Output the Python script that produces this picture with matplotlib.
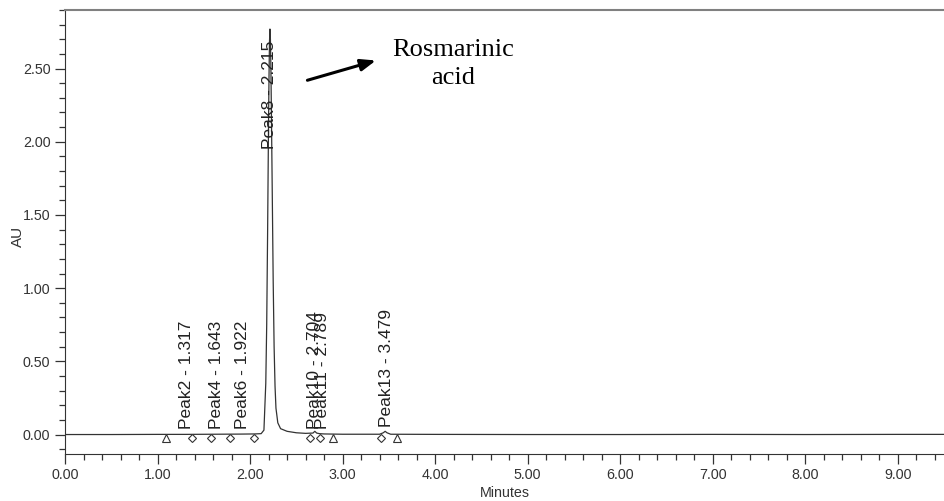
import matplotlib
matplotlib.use('Agg')
import matplotlib.pyplot as plt
from matplotlib.ticker import MultipleLocator, FormatStrFormatter

plt.rcParams['font.family'] = ['Liberation Sans', 'DejaVu Sans']

# chromatogram trace (minutes, AU)
time = [0.00, 0.50, 1.00, 1.30, 1.60, 1.90, 2.05, 2.12, 2.15, 2.17, 2.18, 2.19,
        2.20, 2.205, 2.21, 2.215, 2.22, 2.225, 2.23, 2.24, 2.25, 2.26, 2.27,
        2.28, 2.30, 2.33, 2.40, 2.50, 2.60, 2.68, 2.70, 2.72, 2.75, 2.80,
        3.00, 3.40, 3.44, 3.46, 3.48, 3.52, 4.00, 5.00, 6.00, 7.00, 8.00,
        9.00, 9.50]
au = [0.000, 0.000, 0.001, 0.001, 0.002, 0.003, 0.004, 0.006, 0.030, 0.350,
      0.750, 1.400, 2.150, 2.450, 2.680, 2.770, 2.700, 2.520, 2.250, 1.650,
      1.050, 0.600, 0.330, 0.180, 0.080, 0.040, 0.022, 0.012, 0.008, 0.010,
      0.022, 0.010, 0.006, 0.004, 0.002, 0.002, 0.012, 0.022, 0.012, 0.002,
      0.001, 0.000, 0.000, 0.001, 0.000, 0.001, 0.001]

# peak labels
peak_names = ['Peak2', 'Peak4', 'Peak6', 'Peak8', 'Peak10', 'Peak11', 'Peak13']
peak_rt = [1.317, 1.643, 1.922, 2.215, 2.704, 2.789, 3.479]
peak_label_y = [0.04, 0.04, 0.04, 2.69, 0.04, 0.04, 0.05]

# integration start/end markers
tri_x = [1.09, 2.894, 3.585]
dia_x = [1.368, 1.577, 1.785, 2.04, 2.646, 2.754, 3.413]
marker_y = -0.025

fig = plt.figure(figsize=(9.44, 5.01), dpi=100)
ax = fig.add_axes([65 / 944, (501 - 454) / 501, (944 - 65) / 944, (454 - 10) / 501])

ax.plot(time, au, color='#333333', linewidth=0.9)
ax.plot(tri_x, [marker_y] * len(tri_x), linestyle='none', marker='^',
        markersize=5.5, markerfacecolor='white', markeredgecolor='#333333',
        markeredgewidth=0.8)
ax.plot(dia_x, [marker_y] * len(dia_x), linestyle='none', marker='D',
        markersize=4, markerfacecolor='white', markeredgecolor='#333333',
        markeredgewidth=0.8)

for name, rt, ly in zip(peak_names, peak_rt, peak_label_y):
    va = 'top' if ly > 1 else 'bottom'
    ax.text(rt - 0.005, ly, f'{name} - {rt:.3f}', rotation=90, ha='center',
            va=va, fontsize=12.5, color='#222222')

ax.annotate('', xy=(3.36, 2.555), xytext=(2.62, 2.42),
            arrowprops=dict(arrowstyle='-|>,head_length=0.9,head_width=0.35',
                            color='black', lw=2.2, shrinkA=0, shrinkB=0))
ax.text(4.2, 2.53, 'Rosmarinic\nacid', ha='center', va='center',
        fontsize=19, family='Liberation Serif', linespacing=1.35)

ax.set_xlim(0, 9.5)
ax.set_ylim(-0.133, 2.90)
ax.xaxis.set_major_locator(MultipleLocator(1.0))
ax.xaxis.set_minor_locator(MultipleLocator(0.2))
ax.yaxis.set_major_locator(MultipleLocator(0.5))
ax.yaxis.set_minor_locator(MultipleLocator(0.1))
ax.xaxis.set_major_formatter(FormatStrFormatter('%.2f'))
ax.yaxis.set_major_formatter(FormatStrFormatter('%.2f'))

ax.tick_params(axis='both', which='major', direction='out', length=7,
               width=0.9, color='#333333', labelsize=10.3, labelcolor='#333333')
ax.tick_params(axis='both', which='minor', direction='out', length=4,
               width=0.9, color='#333333')
ax.tick_params(axis='x', which='both', pad=3)

ax.spines['right'].set_visible(False)
ax.spines['top'].set_color('#808080')
ax.spines['top'].set_linewidth(1.5)
ax.spines['left'].set_color('#333333')
ax.spines['bottom'].set_color('#333333')

ax.set_xlabel('Minutes', fontsize=10.3, color='#333333', labelpad=3)
ax.set_ylabel('AU', fontsize=11, color='#333333')
ax.yaxis.set_label_coords(-40 / 879, 0.49)

fig.savefig('out.png', dpi=100)
